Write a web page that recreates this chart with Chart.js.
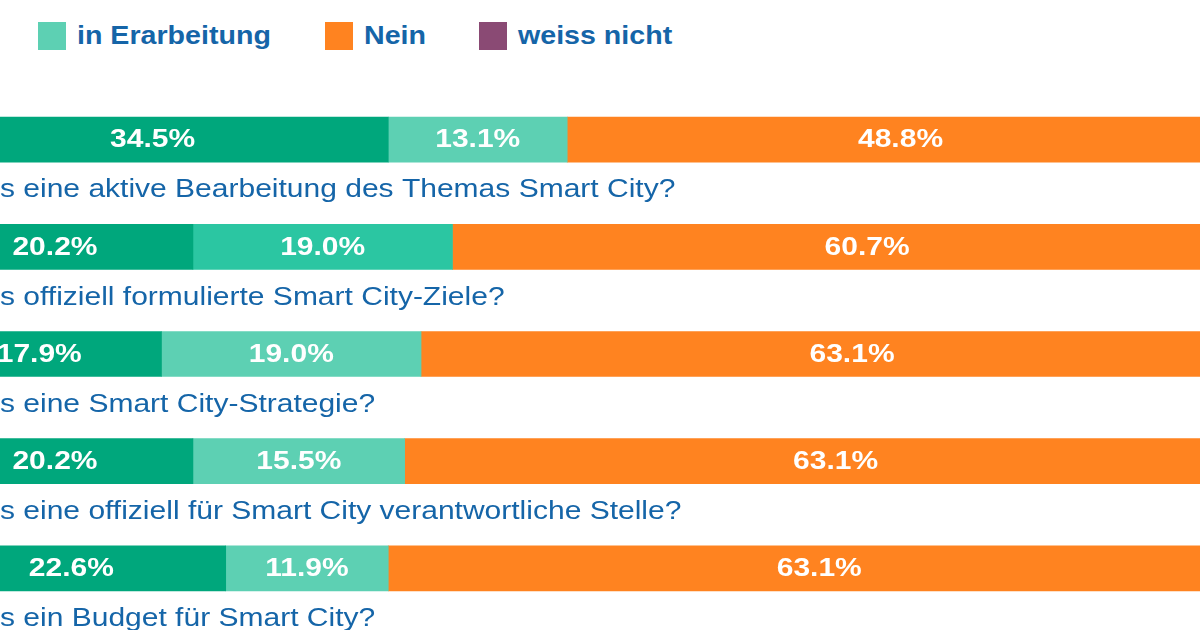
<!DOCTYPE html>
<html><head><meta charset="utf-8">
<script src="https://cdn.jsdelivr.net/npm/chart.js@4"></script>
<style>
  html,body{margin:0;padding:0;background:#fff;overflow:hidden;width:1200px;height:630px;position:relative;font-family:"Liberation Sans",Arial,sans-serif}
  #wrap{position:absolute;left:-83px;top:0;width:1366px;height:630px}
  .leg{position:absolute;top:20px;display:flex;align-items:center;font-weight:bold;font-size:26px;color:#1565a8}
  .leg i{display:inline-block;width:28px;height:28px;margin-right:11px}
  .leg span{display:inline-block;transform:scaleX(1.1);transform-origin:left center}
</style></head>
<body>
<div id="legend"></div>
<div id="wrap"><canvas id="c"></canvas></div>
<script>
const questions = [
  'Gibt es eine aktive Bearbeitung des Themas Smart City?',
  'Gibt es offiziell formulierte Smart City-Ziele?',
  'Gibt es eine Smart City-Strategie?',
  'Gibt es eine offiziell für Smart City verantwortliche Stelle?',
  'Gibt es ein Budget für Smart City?'
];
const seriesNames = ['Ja', 'in Erarbeitung', 'Nein', 'weiss nicht'];
const ja          = [34.5, 20.2, 17.9, 20.2, 22.6];
const inArbeit    = [13.1, 19.0, 19.0, 15.5, 11.9];
const nein        = [48.8, 60.7, 63.1, 63.1, 63.1];
const weissNicht  = [3.6, 0.1, 0.0, 1.2, 2.4];
const colors = ['#00a77c', '#5dd0b3', '#ff8320', '#8a4a74'];
const legendLeft = [-250, 38, 325, 479];

const legend = document.getElementById('legend');
seriesNames.forEach((n, i) => {
  legend.insertAdjacentHTML('beforeend',
    `<div class="leg" style="left:${legendLeft[i]}px"><i style="background:${colors[i]}"></i><span>${n}</span></div>`);
});

// Text in the reference is horizontally stretched, so draw it with an x-scale.
const SX = 1.2;
const labelPlugin = {
  id: 'labels',
  afterDatasetsDraw(chart) {
    const ctx = chart.ctx;
    ctx.save();
    ctx.font = 'bold 25px "Liberation Sans", Arial, sans-serif';
    ctx.fillStyle = '#fff';
    ctx.textAlign = 'center';
    ctx.textBaseline = 'middle';
    chart.data.datasets.forEach((ds, di) => {
      chart.getDatasetMeta(di).data.forEach((bar, i) => {
        if (ds.data[i] < 5) return;
        const cx = (bar.base + bar.x) / 2;
        ctx.save();
        ctx.translate(cx, bar.y + 1);
        ctx.scale(SX, 1);
        ctx.fillText(ds.data[i].toFixed(1) + '%', 0, 0);
        ctx.restore();
      });
    });
    ctx.font = '25px "Liberation Sans", Arial, sans-serif';
    ctx.fillStyle = '#1565a8';
    ctx.textAlign = 'left';
    const off = 83 - ctx.measureText('Gibt e').width * SX;
    chart.getDatasetMeta(0).data.forEach((bar, i) => {
      ctx.save();
      ctx.translate(off, bar.y + 51);
      ctx.scale(SX, 1);
      ctx.fillText(questions[i], 0, 0);
      ctx.restore();
    });
    ctx.restore();
  }
};

const data = [ja, inArbeit, nein, weissNicht];
new Chart(document.getElementById('c'), {
  type: 'bar',
  data: {
    labels: questions,
    datasets: seriesNames.map((n, i) => ({
      label: n,
      data: data[i],
      backgroundColor: i === 1 ? inArbeit.map((v, k) => k === 1 ? '#2bc6a2' : colors[1]) : colors[i],
      borderWidth: 0,
      barThickness: 45
    }))
  },
  options: {
    indexAxis: 'y',
    responsive: true,
    maintainAspectRatio: false,
    animation: false,
    layout: { padding: { top: 86, bottom: 8, left: 0, right: 0 } },
    plugins: { legend: { display: false }, tooltip: { enabled: false } },
    scales: {
      x: { stacked: true, min: 0, max: 100, display: false },
      y: { stacked: true, display: false }
    }
  },
  plugins: [labelPlugin]
});
</script>
</body></html>
